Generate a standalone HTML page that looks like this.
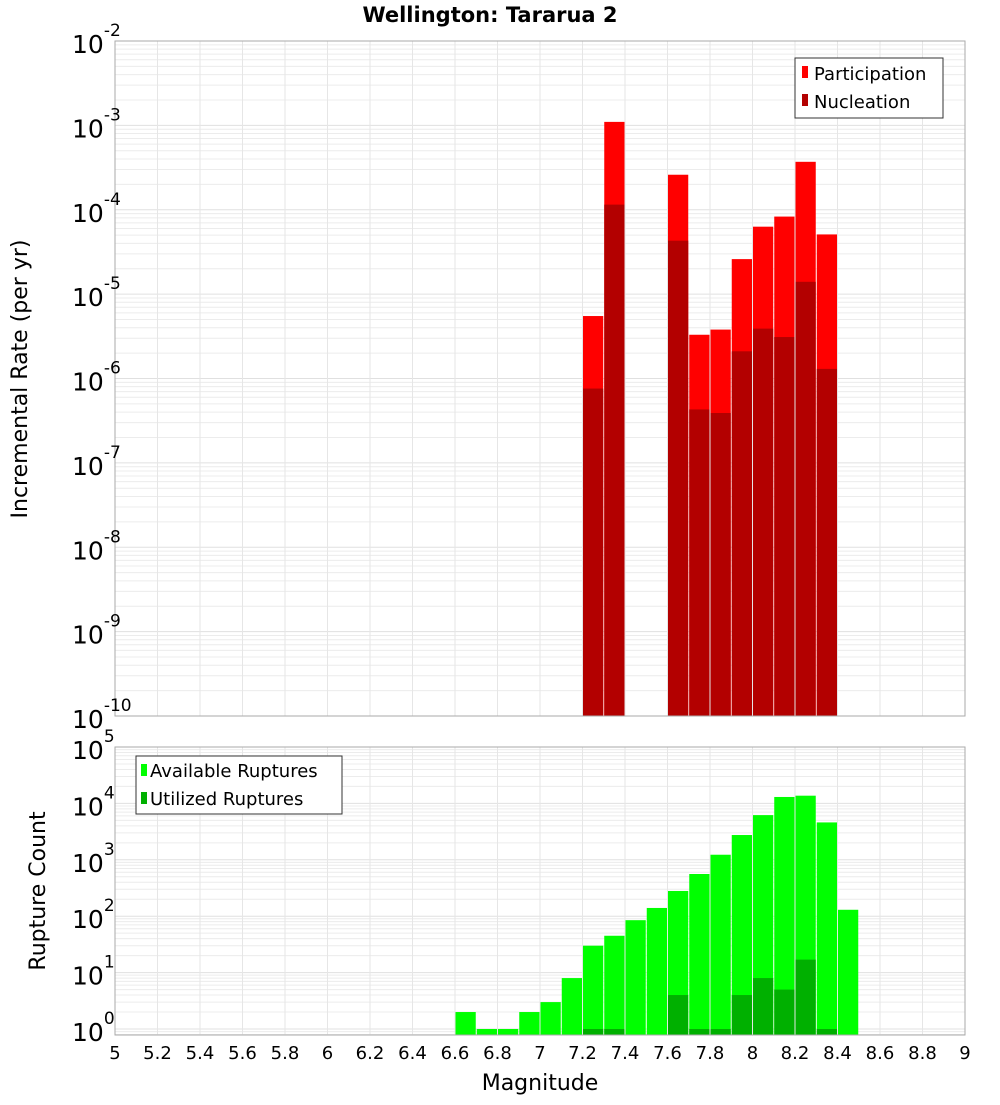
<!DOCTYPE html>
<html><head><meta charset="utf-8"><style>
body{margin:0;background:#fff}
svg text{font-family:"DejaVu Sans","Liberation Sans",sans-serif}
</style></head><body>
<svg id="chart" width="1000" height="1100" xmlns="http://www.w3.org/2000/svg">
<text x="490" y="22" text-anchor="middle" font-size="21" font-weight="bold">Wellington: Tararua 2</text>
<g id="gtop"></g><g id="gbot"></g>
<text transform="translate(27,379) rotate(-90)" text-anchor="middle" font-size="22">Incremental Rate (per yr)</text>
<text transform="translate(45,891) rotate(-90)" text-anchor="middle" font-size="22">Rupture Count</text>
<text x="540" y="1090" text-anchor="middle" font-size="22">Magnitude</text>
<g id="legends">
<g>
<rect x="795" y="58" width="148" height="60" fill="#fff" stroke="#333"/>
<rect x="802" y="66" width="6" height="12" fill="#ff0000"/><text x="814" y="80" font-size="18">Participation</text>
<rect x="802" y="94" width="6" height="12" fill="#b30000"/><text x="814" y="108" font-size="18">Nucleation</text>
</g>
<g>
<rect x="136" y="756" width="206" height="58" fill="#fff" stroke="#333"/>
<rect x="141" y="764" width="6" height="12" fill="#00ff00"/><text x="150" y="777" font-size="18">Available Ruptures</text>
<rect x="141" y="792" width="6" height="12" fill="#00b000"/><text x="150" y="805" font-size="18">Utilized Ruptures</text>
</g>
</g>
</svg>
<script>
const mags = [6.65,6.75,6.85,6.95,7.05,7.15,7.25,7.35,7.45,7.55,7.65,7.75,7.85,7.95,8.05,8.15,8.25,8.35,8.45];
const partMags = [7.25,7.35,7.65,7.75,7.85,7.95,8.05,8.15,8.25,8.35];
const participation = [5.5e-6,1.1e-3,2.6e-4,3.3e-6,3.8e-6,2.6e-5,6.3e-5,8.3e-5,3.7e-4,5.1e-5];
const nucleation = [7.6e-7,1.15e-4,4.3e-5,4.3e-7,3.9e-7,2.1e-6,3.9e-6,3.1e-6,1.4e-5,1.3e-6];
const available = [2,1,1,2,3,8,30,45,85,140,280,560,1230,2750,6200,13000,13700,4600,130];
const utilized = [0,0,0,0,0,0,1,1,0,0,4,1,1,4,8,5,17,1,0];
const xTicks = [5,5.2,5.4,5.6,5.8,6,6.2,6.4,6.6,6.8,7,7.2,7.4,7.6,7.8,8,8.2,8.4,8.6,8.8,9];
const topExp = [-2,-3,-4,-5,-6,-7,-8,-9,-10];
const botExp = [5,4,3,2,1,0];
const NS="http://www.w3.org/2000/svg";
const X0=115,X1=965;
const xs=m=>X0+(m-5)/4*(X1-X0);
const T0=41,T1=716, yT=v=>T0+(-2-Math.log10(v))*(T1-T0)/8;
const B0=747,B1=1035, yB=v=>1029-Math.log10(v)*(1029-B0)/5;
function el(p,t,a){const e=document.createElementNS(NS,t);for(const k in a)e.setAttribute(k,a[k]);p.appendChild(e);return e;}
function grid(g,ta,tb,yf,lo,hi){
  for(let e=lo;e<hi;e++)for(let k=1;k<10;k++){const yy=yf(k*Math.pow(10,e));if(yy<ta||yy>tb)continue;
    const l=el(g,'line',{x1:X0,x2:X1,y1:yy,y2:yy,stroke:k==1?'#e0e0e0':'#ececec','stroke-width':1});
    
    }
  xTicks.forEach(t=>{const l=el(g,'line',{x1:xs(t),x2:xs(t),y1:ta,y2:tb,stroke:'#e6e6e6'});
    
    });
}
const gTop=document.getElementById('gtop'),gBot=document.getElementById('gbot');
grid(gTop,T0,T1,yT,-10,-2);
grid(gBot,B0,B1,yB,-1,5);
const w=(X1-X0)/40;
partMags.forEach((m,i)=>{
  let r=el(gTop,'rect',{x:xs(m)-w/2+0.5,y:yT(participation[i]),width:w-1,height:T1-yT(participation[i]),fill:'#ff0000'});
  
  
  r=el(gTop,'rect',{x:xs(m)-w/2+0.5,y:yT(nucleation[i]),width:w-1,height:T1-yT(nucleation[i]),fill:'#b30000'});
  
  
});
mags.forEach((m,i)=>{
  let r=el(gBot,'rect',{x:xs(m)-w/2+0.5,y:yB(available[i]),width:w-1,height:B1-yB(available[i]),fill:'#00ff00'});
  
  
  if(utilized[i]>0){r=el(gBot,'rect',{x:xs(m)-w/2+0.5,y:yB(utilized[i]),width:w-1,height:B1-yB(utilized[i]),fill:'#00b000'});
  
  }
});
[[gTop,T0,T1],[gBot,B0,B1]].forEach(([g,a,b])=>{const r=el(g,'rect',{x:X0,y:a,width:X1-X0,height:b-a,fill:'none',stroke:'#aaa'});
  
  });
function ylab(g,e,yy){const t=el(g,'text',{x:72,y:yy+12,'font-size':25});
  
  
  t.textContent='10';const s=el(t,'tspan',{dy:-17,'font-size':17});s.textContent=String(e);}
topExp.forEach(e=>ylab(gTop,e,yT(Math.pow(10,e))));
botExp.forEach(e=>ylab(gBot,e,yB(Math.pow(10,e))));
xTicks.forEach(t=>{const tx=el(gBot,'text',{x:xs(t),y:1059,'text-anchor':'middle','font-size':18});
  
  
  tx.textContent=String(t);});
document.getElementById('chart').appendChild(document.getElementById('legends'));
</script>
</body></html>
